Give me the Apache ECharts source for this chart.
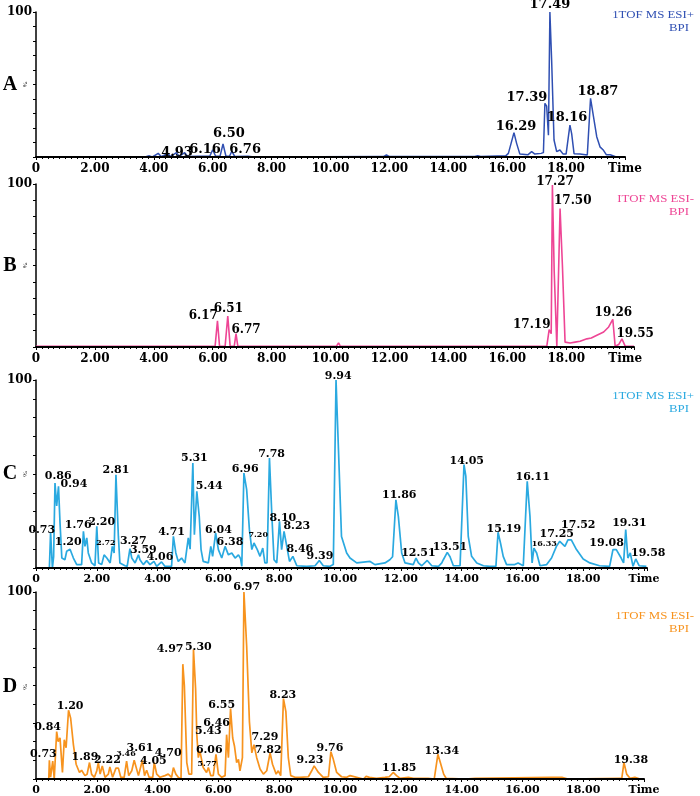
<!DOCTYPE html>
<html><head><meta charset="utf-8">
<script src="https://cdn.jsdelivr.net/npm/echarts@6/dist/echarts.min.js"></script>
<style>html,body{margin:0;padding:0;background:#fff}#c{width:700px;height:796px}</style>
</head><body><div id="c"></div>
<script>
// ---- Panel A: ESI+ (blue) ----
const traceA = [[0,0],[3.7,0],[3.85,0.8],[3.95,0],[4.15,2.5],[4.25,0.3],[4.48,2.5],[4.56,0.3],[4.77,3],[4.86,0.4],[5.05,3],[5.15,0.3],[5.5,0.6],[5.9,0.5],[6.0,5],[6.1,0.5],[6.25,0.6],[6.35,9],[6.45,0.5],[6.57,0.5],[6.65,4],[6.75,0.3],[7.2,0.6],[7.4,0],[11.8,0.3],[11.9,1.4],[12.0,0.3],[14.9,0.3],[15.0,0.8],[15.1,0.3],[15.95,0.8],[16.04,2.5],[16.1,1.6],[16.23,16.8],[16.32,9.4],[16.43,2],[16.7,1.5],[16.83,3.7],[16.94,2],[17.15,2.5],[17.23,3],[17.28,37],[17.34,35],[17.40,15],[17.45,100],[17.51,66],[17.59,11.7],[17.68,3.7],[17.79,4.8],[17.9,2],[18.0,2],[18.07,12.9],[18.13,22],[18.19,16],[18.27,2.3],[18.47,2],[18.72,1.4],[18.77,2],[18.83,40.5],[18.93,27.8],[19.04,14],[19.15,7],[19.27,4.6],[19.32,4],[19.37,1.5],[19.5,1.5],[19.7,0]];
const peaksA = [['17.49',17.45,104.8],['17.39',16.67,40.7],['18.16',18.03,26.9],['16.29',16.3,20.7],['18.87',19.08,44.8],['6.50',6.55,15.9],['6.16',5.74,4.8],['6.76',7.1,4.8],['4.93',4.79,2.8]];

// ---- Panel B: ESI- (pink) ----
const traceB = [[0,0.5],[6.0,0.5],[6.08,0.5],[6.16,16],[6.23,0.5],[6.42,0.5],[6.51,19],[6.59,0.5],[6.73,0.5],[6.79,8.2],[6.85,0.5],[10.2,0.5],[10.27,2.5],[10.33,0.5],[17.34,0.5],[17.42,10.7],[17.49,8.2],[17.53,99.4],[17.59,47],[17.68,0.5],[17.74,0.5],[17.79,85],[17.87,50],[17.96,3],[18.13,2.5],[18.3,3],[18.47,3.5],[18.7,5],[18.85,5.5],[19.04,7.2],[19.27,9.2],[19.44,12.3],[19.58,17],[19.66,0.5],[19.78,1.5],[19.89,5],[20.0,0.5],[20.3,0.5]];
const peaksB = [['6.17',5.68,18.9],['6.51',6.53,23.6],['6.77',7.13,10.7],['17.27',17.62,101.4],['17.50',18.22,89.7],['17.19',16.83,13.3],['19.26',19.6,21],['19.55',20.34,8.2]];

// ---- Panel C: ESI+ (light blue) ----
const traceC = [[0,0],[0.35,0],[0.44,0],[0.48,19],[0.54,0],[0.58,6],[0.625,45.2],[0.68,33],[0.74,43.4],[0.79,24],[0.85,5.3],[0.95,4.4],[1.01,8.9],[1.12,10],[1.23,5.3],[1.34,1.8],[1.50,1.8],[1.56,19.5],[1.61,11.5],[1.67,16],[1.72,8],[1.83,2.7],[1.94,1.2],[2.0,22.2],[2.06,2.7],[2.16,1.8],[2.24,7],[2.33,5.3],[2.44,2.7],[2.51,11.5],[2.57,8],[2.63,49.6],[2.71,16.8],[2.76,2.7],[2.93,1.2],[3.0,0.9],[3.09,10.3],[3.15,5.3],[3.26,2.7],[3.37,7],[3.42,4.4],[3.53,1.8],[3.64,3.9],[3.75,1.8],[3.88,3.5],[3.97,0.9],[4.13,3.2],[4.24,0.9],[4.46,0.9],[4.52,16.8],[4.6,8],[4.68,3.5],[4.79,5.3],[4.9,2.7],[5.01,16],[5.07,10],[5.16,55.9],[5.21,17.7],[5.29,40.8],[5.37,27.5],[5.43,9.8],[5.5,3.5],[5.67,2.7],[5.75,11.5],[5.81,6.2],[5.91,18.6],[6.0,9.8],[6.11,5.3],[6.22,11.5],[6.33,7],[6.44,8],[6.55,5.3],[6.66,7],[6.73,5],[6.77,0.9],[6.84,50.5],[6.93,41.7],[7.02,20.4],[7.1,9.8],[7.17,13.3],[7.28,9.8],[7.37,6.2],[7.46,10.6],[7.53,2.7],[7.6,2.7],[7.68,58.5],[7.76,27.5],[7.83,4.4],[7.92,2.7],[8.01,24.8],[8.08,9.8],[8.16,19.5],[8.25,11.5],[8.34,3.5],[8.45,6.2],[8.58,1.2],[8.9,0.9],[9.18,1.2],[9.32,4],[9.45,1.2],[9.67,0.9],[9.78,1.8],[9.87,100],[9.95,63],[10.05,16.8],[10.22,8],[10.33,5.3],[10.55,2.7],[10.99,3.5],[11.15,1.8],[11.48,2.7],[11.64,4.4],[11.73,6],[11.84,36.3],[11.92,27.5],[12.03,8],[12.14,2.7],[12.41,1.8],[12.5,5.3],[12.58,2.7],[12.69,1.2],[12.87,4],[13.02,1.2],[13.24,0.9],[13.35,2.7],[13.4,4.4],[13.53,8.3],[13.62,6],[13.73,1.2],[13.95,1.2],[14.08,55],[14.14,48.8],[14.22,16.8],[14.33,6.2],[14.5,2.7],[14.72,1.2],[14.93,0.9],[15.13,0.9],[15.2,19],[15.28,13.3],[15.37,6.2],[15.48,1.8],[15.75,1.8],[15.86,2.7],[16.03,1.2],[16.09,0.9],[16.16,46.1],[16.25,27.5],[16.32,2.7],[16.38,10.6],[16.47,8],[16.58,1.2],[16.8,1.8],[16.96,5.3],[17.12,11.5],[17.23,14.2],[17.4,11.5],[17.5,15],[17.61,15],[17.78,9.8],[18.0,4.8],[18.22,2.7],[18.54,1.2],[18.87,0.9],[18.98,9.8],[19.09,9.8],[19.25,5.3],[19.33,2.7],[19.4,20.4],[19.47,5.3],[19.55,8],[19.64,0.9],[19.73,4.8],[19.84,1.2],[20.08,0.9]];
const peaksC = [['0.73',0.19,20.4],['0.86',0.73,49.1],['0.94',1.25,44.7],['1.20',1.06,13.6],['1.76',1.39,22.7],['2.20',2.16,24.5],['2.72',2.3,13.6],['2.81',2.63,51.9],['3.27',3.2,14.1],['3.59',3.53,9.7],['4.06',4.08,5.9],['4.71',4.46,19.1],['5.31',5.21,58.5],['5.44',5.7,43.8],['6.04',6.0,20.4],['6.38',6.38,13.6],['6.96',6.88,52.7],['7.20',7.31,17.7],['7.78',7.75,60.8],['8.10',8.12,26.6],['8.23',8.58,22.1],['8.46',8.68,10.1],['9.39',9.34,6.2],['9.94',9.94,102.3],['11.86',11.95,38.6],['12.51',12.58,8],['13.51',13.62,11.2],['14.05',14.17,56.7],['15.19',15.39,20.9],['16.11',16.34,48.2],['16.33',16.72,12.9],['17.25',17.13,18.2],['17.52',17.84,22.7],['19.08',18.77,13.3],['19.31',19.52,23.9],['19.58',20.14,8]];
const smallC = ['2.72','7.20','16.33'];

// ---- Panel D: ESI- (orange) ----
const traceD = [[0,0],[0.35,0],[0.42,0],[0.44,10],[0.48,1],[0.52,1],[0.55,9.6],[0.6,0],[0.68,25.4],[0.73,20],[0.79,22],[0.87,3.5],[0.93,21],[0.99,16.7],[1.07,36.8],[1.14,32.5],[1.23,18.4],[1.32,7.9],[1.43,3.5],[1.5,4.7],[1.61,1.8],[1.68,2.5],[1.76,8.8],[1.83,2.5],[1.92,0.9],[2.0,4.4],[2.05,8.8],[2.11,2.6],[2.18,7],[2.27,0.9],[2.38,2.6],[2.43,6.5],[2.52,0.9],[2.63,5.8],[2.71,5.8],[2.79,0.9],[2.9,0.9],[2.98,9.6],[3.05,1.8],[3.15,4.4],[3.23,10],[3.29,10],[3.37,1.8],[3.42,0.9],[3.5,10],[3.57,1.8],[3.64,4.7],[3.72,0.9],[3.84,0.9],[3.89,8.8],[3.97,2.6],[4.08,0.9],[4.24,1.8],[4.35,2.6],[4.46,0.9],[4.52,6.1],[4.6,2.6],[4.68,0.9],[4.77,0],[4.83,61.4],[4.88,50],[4.96,8.8],[5.03,2.6],[5.12,2.6],[5.18,69.3],[5.25,48.2],[5.29,23.7],[5.34,11.4],[5.39,15],[5.5,6.1],[5.61,3.5],[5.67,6.1],[5.75,1.8],[5.83,1.8],[5.92,13.2],[6.0,2.6],[6.11,0.9],[6.22,1.8],[6.27,23.7],[6.33,11.4],[6.4,37.7],[6.47,21.9],[6.53,17.5],[6.6,8.8],[6.66,10.5],[6.71,4.4],[6.79,11.4],[6.84,100],[6.93,71],[7.02,30.7],[7.1,14],[7.17,18.4],[7.26,11.4],[7.37,5.3],[7.48,2.6],[7.59,4.4],[7.7,14],[7.78,7.9],[7.9,2.6],[7.97,4.4],[8.05,1.8],[8.14,43],[8.22,36],[8.3,11.4],[8.38,1.8],[8.52,0.9],[8.68,0.9],[8.96,1.2],[9.07,4.4],[9.15,7],[9.29,3.5],[9.45,0.9],[9.62,1.2],[9.7,14.6],[9.78,10.5],[9.89,3.5],[10.05,1.2],[10.22,0.9],[10.33,1.8],[10.77,0],[10.86,1.4],[10.97,0.9],[11.2,0.4],[11.48,0.9],[11.62,1.2],[11.75,3.5],[11.86,1.8],[11.97,0.4],[12.25,0.9],[12.41,0.4],[12.9,0.4],[13.1,0],[13.16,0.9],[13.22,13.2],[13.3,8.8],[13.41,2.6],[13.49,0.4],[14.12,0],[14.45,0.4],[16.97,0.9],[17.3,0.9],[17.5,0],[19.2,0.4],[19.27,0.4],[19.34,8.8],[19.43,2.6],[19.54,0.4],[19.7,0.9],[19.87,0]];
const peaksD = [['0.73',0.24,13.2],['0.84',0.38,27.6],['1.20',1.12,39.2],['1.89',1.61,11.9],['2.22',2.35,10.2],['3.46',2.96,13.5],['3.61',3.42,16.7],['4.05',3.86,9.7],['4.70',4.35,13.7],['4.97',4.41,69.3],['5.30',5.34,70.7],['5.43',5.67,25.5],['5.77',5.63,8.3],['6.06',5.7,15.5],['6.46',5.94,29.8],['6.55',6.11,39.5],['6.97',6.93,102.6],['7.29',7.53,22.3],['7.82',7.64,15.5],['8.23',8.12,45.1],['9.23',9.01,10],['9.76',9.67,16.3],['11.85',11.95,5.6],['13.34',13.35,14.9],['19.38',19.57,10.2]];
const smallD = ['3.46','5.77'];

const xTickLabels = ['0','2.00','4.00','6.00','8.00','10.00','12.00','14.00','16.00','18.00','Time'];
const yTickLabel = '100';
const panelLetters = ['A','B','C','D'];
const titles = [['1TOF MS ESI+','BPI'],['ITOF MS ESI-','BPI'],['1TOF MS ESI+','BPI'],['1TOF MS ESI-','BPI']];

// ---- layout / style ----
const SERIF = '"DejaVu Serif", "Liberation Serif", serif';
const TIMES = '"Liberation Serif", "DejaVu Serif", serif';
const panels = [
  {trace:traceA, peaks:peaksA, small:[], color:'#2f4fb2', top:12, height:145, left:36, width:589, max:20, pf:13, af:12, ty:15, lw:1.5},
  {trace:traceB, peaks:peaksB, small:[], color:'#ee4595', top:184, height:163, left:36, width:598, max:20.3, pf:12, af:12, ty:199, lw:1.6},
  {trace:traceC, peaks:peaksC, small:smallC, color:'#2aa9e0', top:380, height:188, left:36, width:611, max:20.1, pf:11, af:11, ty:396, lw:1.7},
  {trace:traceD, peaks:peaksD, small:smallD, color:'#f7931e', top:592, height:190, left:36, width:608, max:20, pf:11, af:11, ty:616, lw:1.7}
];

const grid = [], xAxis = [], yAxis = [], series = [], graphic = [];
panels.forEach((p, i) => {
  grid.push({left:p.left, top:p.top, width:p.width, height:p.height, containLabel:false});
  xAxis.push({
    type:'value', gridIndex:i, min:0, max:p.max, interval:2, z:5,
    axisLine:{show:true, onZero:false, lineStyle:{color:'#000', width:2}},
    axisTick:{show:true, length:3, lineStyle:{color:'#000', width:1}},
    minorTick:{show:true, splitNumber:10, length:2, lineStyle:{color:'#000', width:1}},
    splitLine:{show:false}, minorSplitLine:{show:false},
    axisLabel:{
      margin:6, color:'#000', fontFamily:SERIF, fontWeight:'bold', fontSize:p.af,
      showMinLabel:true, showMaxLabel:true, hideOverlap:false,
      formatter: v => {
        const k = Math.round(v / 2);
        if (Math.abs(v - k * 2) > 1e-6) return '';
        return xTickLabels[k] || '';
      }
    }
  });
  yAxis.push({
    type:'value', gridIndex:i, min:0, max:100, interval:10,
    axisLine:{show:true, lineStyle:{color:'#000', width:1.5}},
    axisTick:{show:true, length:3, lineStyle:{color:'#000', width:1}},
    splitLine:{show:false},
    axisLabel:{margin:4, color:'#000', fontFamily:SERIF, fontWeight:'bold', fontSize:12,
      formatter: v => v === 100 ? yTickLabel : ''}
  });
  series.push({
    type:'line', xAxisIndex:i, yAxisIndex:i, data:p.trace, showSymbol:false, symbol:'none',
    lineStyle:{color:p.color, width:p.lw}, z:2, animation:false, silent:true
  });
  series.push({
    type:'scatter', xAxisIndex:i, yAxisIndex:i, clip:false, symbolSize:0.01, z:6,
    itemStyle:{color:'#000', opacity:1}, animation:false, silent:true,
    data: p.peaks.map(d => ({
      name:d[0], value:[d[1], d[2]],
      label: p.small.includes(d[0]) ? {fontSize:8} : undefined
    })),
    label:{show:true, position:'inside', formatter:'{b}', color:'#000', opacity:1,
      textBorderWidth:0, fontFamily:SERIF, fontWeight:'bold', fontSize:p.pf},
    labelLayout:{hideOverlap:false}
  });
  const letterY = p.top + p.height * 0.5;
  graphic.push({type:'text', x:10, y:letterY, style:{text:panelLetters[i], font:'bold 20px ' + TIMES, fill:'#000', textAlign:'center', textVerticalAlign:'middle'}});
  graphic.push({type:'text', x:25, y:letterY, rotation:-Math.PI/2, style:{text:'%', font:'7px ' + TIMES, fill:'#000', textAlign:'center', textVerticalAlign:'middle'}});
  graphic.push({type:'text', x:694, y:p.ty, scaleX:1.35, style:{text:titles[i][0], font:'9.5px ' + TIMES, fill:p.color, textAlign:'right', textVerticalAlign:'middle'}});
  graphic.push({type:'text', x:689, y:p.ty + 13, scaleX:1.35, style:{text:titles[i][1], font:'9.5px ' + TIMES, fill:p.color, textAlign:'right', textVerticalAlign:'middle'}});
});

const chart = echarts.init(document.getElementById('c'), null, {renderer:'canvas'});
chart.setOption({animation:false, backgroundColor:'#fff', grid, xAxis, yAxis, series, graphic});
</script></body></html>
